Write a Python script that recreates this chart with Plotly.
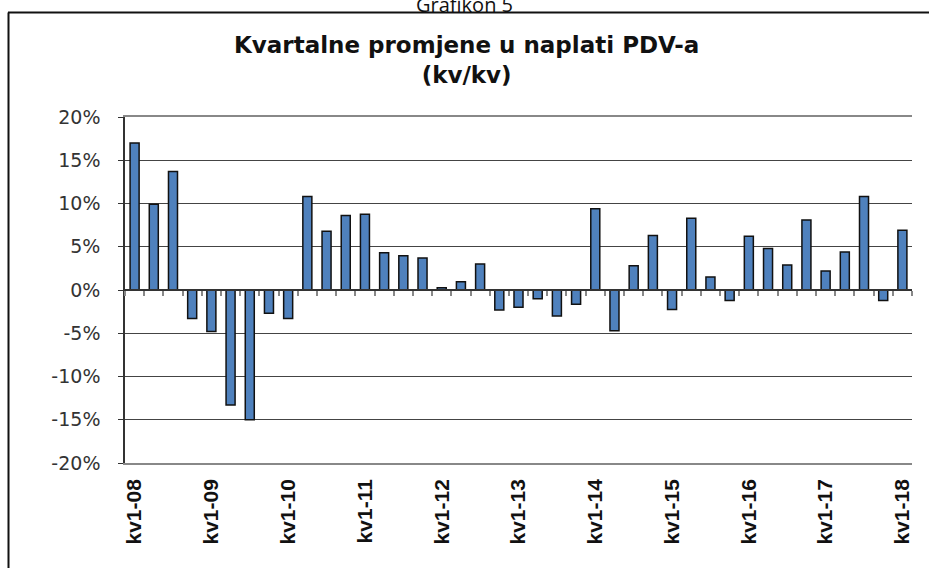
import plotly.graph_objects as go

quarters = [f"kv{q}-{y:02d}" for y in range(8, 19) for q in range(1, 5)][:41]
values = [17.0, 9.9, 13.7, -3.3, -4.8, -13.3, -15.0, -2.7, -3.3,
          10.8, 6.8, 8.6, 8.75, 4.3, 3.95, 3.7, 0.25, 0.95, 3.0,
          -2.3, -2.0, -1.0, -3.0, -1.65, 9.4, -4.7, 2.8, 6.3, -2.25,
          8.3, 1.5, -1.2, 6.2, 4.8, 2.9, 8.1, 2.2, 4.4, 10.8, -1.2, 6.9]
label_quarters = [q for q in quarters if q.startswith("kv1")]
y_ticks = [-20, -15, -10, -5, 0, 5, 10, 15, 20]
y_tick_text = [f"{v}%" for v in y_ticks]

title_text = "Kvartalne promjene u naplati PDV-a<br>(kv/kv)"
header_text = "Grafikon 5"

fig = go.Figure()
fig.add_trace(go.Bar(
    x=quarters, y=values,
    marker=dict(color="#4f81bd", line=dict(color="#111111", width=1.5)),
    width=0.47,
))

fig.update_layout(
    width=929, height=568,
    margin=dict(l=125, r=17, t=117, b=105),
    paper_bgcolor="white", plot_bgcolor="white",
    showlegend=False,
    font=dict(family="Liberation Sans, Arial, sans-serif", color="#222"),
    xaxis=dict(
        type="category", categoryorder="array", categoryarray=quarters,
        range=[-0.5, 40.5],
        tickmode="array", tickvals=label_quarters, ticktext=label_quarters,
        tickangle=-90, ticks="", showgrid=False,
        tickfont=dict(size=21, color="#111", family="Liberation Sans, Arial, sans-serif", weight="bold"),
        ticklabelstandoff=6,
        showline=True, linecolor="#888", linewidth=1.5, mirror=True,
        zeroline=False,
    ),
    xaxis2=dict(
        type="category", categoryorder="array", categoryarray=quarters,
        range=[-0.5, 40.5], overlaying="x", anchor="free", position=0.5,
        side="bottom", tickson="boundaries", ticks="outside", ticklen=5,
        tickcolor="#888", tickwidth=1.5, dtick=1,
        showticklabels=False, showgrid=False,
        showline=True, linecolor="#333", linewidth=1.5, zeroline=False,
    ),
    yaxis=dict(
        range=[-20, 20], tickmode="array", tickvals=y_ticks, ticktext=y_tick_text,
        ticks="outside", ticklen=5, tickcolor="#333",
        tickfont=dict(size=19, color="#333", family="DejaVu Sans, sans-serif"),
        ticklabelstandoff=14,
        showgrid=True, gridcolor="#444", gridwidth=1,
        showline=True, linecolor="#333", linewidth=1.5,
        zeroline=False,
    ),
)

# invisible trace to anchor xaxis2
fig.add_trace(go.Scatter(x=quarters, y=[None] * len(quarters), xaxis="x2",
                         mode="markers", hoverinfo="skip", showlegend=False))

# chart frame lines (top and left)
px0, pw = 125, 787
py_bottom, ph = 463, 346
def xp(px):
    return (px - px0) / pw
def yp(py):
    return (py_bottom - py) / ph

fig.add_shape(type="line", xref="paper", yref="paper",
              x0=xp(8), x1=xp(940), y0=yp(12.5), y1=yp(12.5),
              line=dict(color="#111", width=2))
fig.add_shape(type="line", xref="paper", yref="paper",
              x0=xp(8.5), x1=xp(8.5), y0=yp(12.5), y1=yp(600),
              line=dict(color="#111", width=2))

fig.add_annotation(text=title_text, xref="paper", yref="paper",
                   x=xp(466), y=yp(60), xanchor="center", yanchor="middle",
                   showarrow=False,
                   font=dict(size=23, color="#111", weight="bold",
                             family="DejaVu Sans, sans-serif"))
fig.add_annotation(text=header_text, xref="paper", yref="paper",
                   x=xp(464), y=yp(5), xanchor="center", yanchor="middle",
                   showarrow=False,
                   font=dict(size=20, color="#111", family="Open Sans, sans-serif"))

fig.write_html("out.html", config={"displayModeBar": False},
               post_script="document.body.style.margin='0';")
